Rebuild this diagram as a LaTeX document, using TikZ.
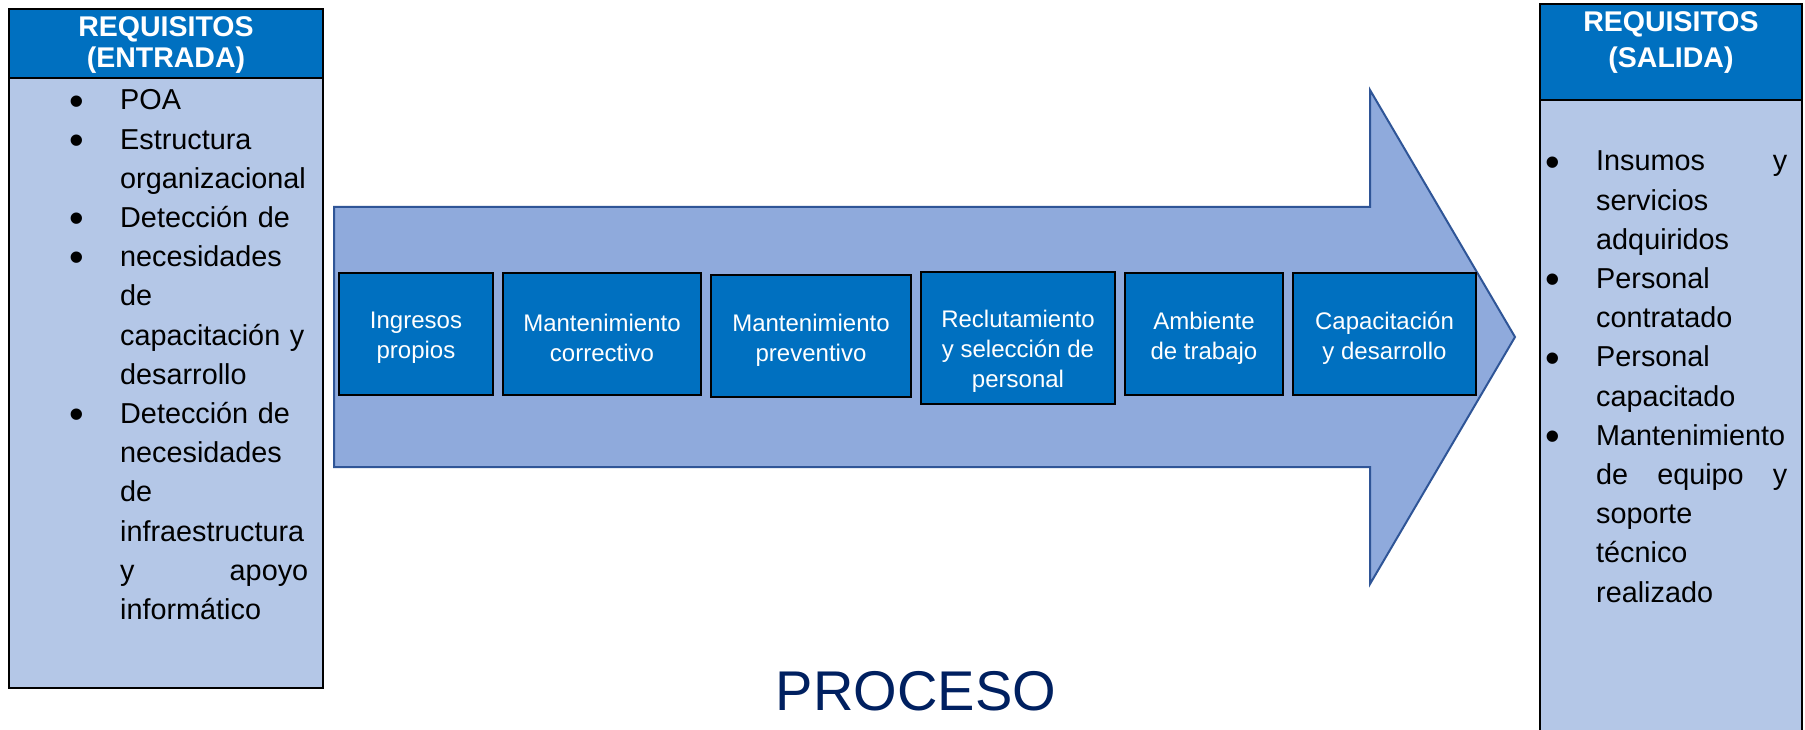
\documentclass[tikz,border=0pt]{standalone}
\usepackage{fontspec}
\usepackage{graphicx}
\setmainfont{Liberation Sans}
\definecolor{hdrblue}{HTML}{0070C0}
\definecolor{lightbody}{HTML}{B4C7E7}
\definecolor{arrowfill}{HTML}{8FAADC}
\definecolor{arrowline}{HTML}{2F5597}
\definecolor{navy}{HTML}{002060}
\newcommand{\bul}{\leavevmode\llap{\smash{\raisebox{-5.2pt}{\scalebox{1.45}{\textbullet}}}\hspace{35.7pt}}}
\begin{document}
\begin{tikzpicture}[x=1pt,y=-1pt,
  panel/.style={draw=black, line width=2.2pt, fill=lightbody},
  header/.style={draw=black, line width=2.2pt, fill=hdrblue},
  hdrtext/.style={text=white, font=\bfseries\fontsize{28.5}{31}\selectfont, align=center, inner sep=0, anchor=base},
  listtext/.style={font=\fontsize{28.8}{39.2}\selectfont, align=left, inner sep=0, anchor=base west},
  procbox/.style={draw=black, line width=1.3pt, fill=hdrblue, inner sep=0},
  boxtext/.style={text=white, align=center, inner sep=0, font=\fontsize{24}{30}\selectfont},
  arrowshape/.style={draw=arrowline, line width=2pt, fill=arrowfill, line join=miter}
]
\clip (0,0) rectangle (1805,730);
\fill[white] (0,0) rectangle (1805,730);

% left panel
\draw[panel] (9,9) rectangle (323,688);
\draw[header] (9,9) rectangle (323,78);
\node[hdrtext] (hin) at (166,68) {REQUISITOS\\(ENTRADA)};
\node[listtext, text width=188pt] (lin) at (120,110) {\bul POA\\
\bul Estructura\\
organizacional\\
\bul Detección de\\
\bul necesidades\\
de\\
capacitación y\\
desarrollo\\
\bul Detección de\\
necesidades\\
de\\
infraestructura\\
y\hfill apoyo\\
informático};

% right panel
\draw[panel] (1540,4) rectangle (1802,760);
\draw[header] (1540,4) rectangle (1802,100);
\node[hdrtext, font=\bfseries\fontsize{28.5}{36}\selectfont] (hout) at (1671,68) {REQUISITOS\\(SALIDA)};
\node[listtext, text width=191pt] (lout) at (1596,171) {\bul Insumos\hfill y\\
servicios\\
adquiridos\\
\bul Personal\\
contratado\\
\bul Personal\\
capacitado\\
\bul Mantenimiento\\
de\hfill equipo\hfill y\\
soporte\\
técnico\\
realizado};

% arrow
\draw[arrowshape] (334,207) -- (1370,207) -- (1370,90) -- (1515,337) -- (1370,584) -- (1370,467) -- (334,467) -- cycle;

% process boxes
\node[procbox, minimum width=154pt, minimum height=122pt] (b1) at (416,334) {};
\node[procbox, minimum width=198pt, minimum height=122pt] (b2) at (602,334) {};
\node[procbox, minimum width=200pt, minimum height=122pt] (b3) at (811,336) {};
\node[procbox, minimum width=194pt, minimum height=132pt] (b4) at (1018,338) {};
\node[procbox, minimum width=158pt, minimum height=122pt] (b5) at (1204,334) {};
\node[procbox, minimum width=183pt, minimum height=122pt] (b6) at (1384.5,334) {};
\node[boxtext] (t1) at ([yshift=-4pt]b1.center) {Ingresos\\propios};
\node[boxtext] (t2) at ([yshift=-4pt]b2.center) {Mantenimiento\\correctivo};
\node[boxtext] (t3) at ([yshift=-4pt]b3.center) {Mantenimiento\\preventivo};
\node[boxtext] (t4) at ([yshift=-13pt]b4.center) {Reclutamiento\\y selección de\\personal};
\node[boxtext] (t5) at ([yshift=-4pt]b5.center) {Ambiente\\de trabajo};
\node[boxtext] (t6) at ([yshift=-4pt]b6.center) {Capacitación\\y desarrollo};

% title
\node[anchor=base, inner sep=0, text=navy, font=\fontsize{56}{60}\selectfont] (proc) at (916,710) {PROCESO};
\end{tikzpicture}
\end{document}
